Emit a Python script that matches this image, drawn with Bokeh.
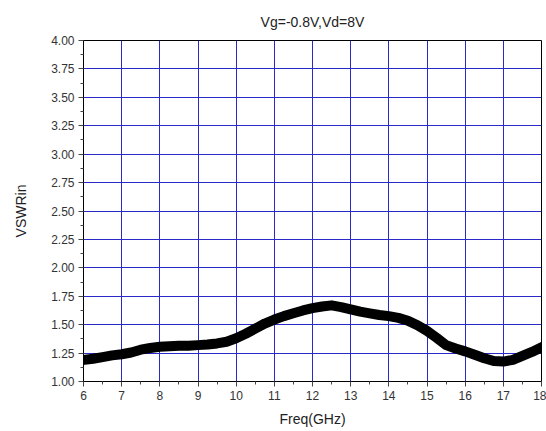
from bokeh.plotting import figure
from bokeh.models import FixedTicker, NumeralTickFormatter, Range1d
from bokeh.embed import file_html
from bokeh.resources import INLINE

freq = [6.0, 6.25, 6.5, 6.75, 7.0, 7.25, 7.5, 7.75, 8.0, 8.25, 8.5, 8.75, 9.0, 9.25, 9.5, 9.75,
        10.0, 10.25, 10.5, 10.75, 11.0, 11.25, 11.5, 11.75, 12.0, 12.25, 12.5, 12.75, 13.0, 13.25,
        13.5, 13.75, 14.0, 14.25, 14.5, 14.75, 15.0, 15.25, 15.5, 15.75, 16.0, 16.25, 16.5, 16.75,
        17.0, 17.25, 17.5, 17.75, 18.0]
vswr = [1.19, 1.20, 1.215, 1.23, 1.24, 1.255, 1.28, 1.295, 1.305, 1.31, 1.315, 1.315, 1.32, 1.325,
        1.335, 1.35, 1.38, 1.42, 1.465, 1.51, 1.545, 1.575, 1.60, 1.625, 1.645, 1.66, 1.67, 1.655,
        1.635, 1.615, 1.60, 1.585, 1.575, 1.56, 1.535, 1.495, 1.445, 1.385, 1.32, 1.29, 1.265,
        1.235, 1.205, 1.18, 1.175, 1.19, 1.225, 1.26, 1.30]

x_ticks = [6, 7, 8, 9, 10, 11, 12, 13, 14, 15, 16, 17, 18]
x_minor = [6.5 + i for i in range(12)]
y_ticks = [1.00, 1.25, 1.50, 1.75, 2.00, 2.25, 2.50, 2.75, 3.00, 3.25, 3.50, 3.75, 4.00]
y_minor = [1.125 + 0.25 * i for i in range(12)]

FONT = "Liberation Sans"
GRID = "#2a2ac8"

p = figure(width=546, height=429, output_backend="svg", toolbar_location=None,
           x_range=Range1d(6, 18), y_range=Range1d(1.0, 4.0),
           title="Vg=-0.8V,Vd=8V",
           min_border_left=83, min_border_right=5, min_border_top=40, min_border_bottom=48)

p.title.align = "center"
p.title.text_font = FONT
p.title.text_font_size = "14px"
p.title.text_font_style = "normal"
p.title.text_color = "#222222"
p.title.standoff = 21

p.outline_line_color = "black"
p.outline_line_alpha = 1.0
p.outline_line_width = 1
p.background_fill_color = "white"
p.border_fill_color = "white"

p.xaxis.ticker = FixedTicker(ticks=x_ticks, minor_ticks=x_minor)
p.yaxis.ticker = FixedTicker(ticks=y_ticks, minor_ticks=y_minor)
p.yaxis.formatter = NumeralTickFormatter(format="0.00")

for ax in (p.xaxis, p.yaxis):
    ax.major_tick_out = 5
    ax.major_tick_in = 0
    ax.minor_tick_out = 3
    ax.minor_tick_in = 0
    ax.axis_line_color = "black"
    ax.major_tick_line_color = "#444444"
    ax.minor_tick_line_color = "#444444"
    ax.major_label_text_font = FONT
    ax.major_label_text_font_size = "12px"
    ax.major_label_text_color = "#333333"
    ax.axis_label_text_font = FONT
    ax.axis_label_text_font_size = "14px"
    ax.axis_label_text_font_style = "normal"
    ax.axis_label_text_color = "#222222"

p.xaxis.axis_label = "Freq(GHz)"
p.yaxis.axis_label = "VSWRin"
p.xaxis.axis_label_standoff = 8
p.yaxis.axis_label_standoff = 19
p.xaxis.major_label_standoff = 4
p.yaxis.major_label_standoff = 4

p.xgrid.grid_line_color = GRID
p.ygrid.grid_line_color = GRID
p.xgrid.grid_line_width = 1
p.ygrid.grid_line_width = 1

p.line(freq, vswr, line_color="black", line_width=10, line_join="round", line_cap="square")

open("out.html", "w").write(file_html(p, INLINE))
